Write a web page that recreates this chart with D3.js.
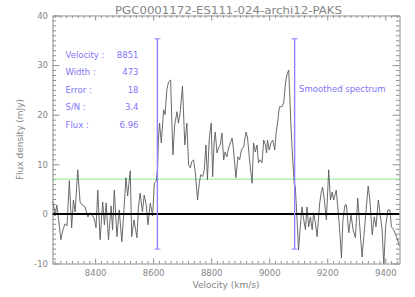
<!DOCTYPE html>
<html>
<head>
<meta charset="utf-8">
<script src="https://cdn.jsdelivr.net/npm/d3@7"></script>
<style>
  body { margin: 0; background: #fff; }
  svg text { font-family: "DejaVu Sans", sans-serif; }
</style>
</head>
<body>
<svg id="chart" width="415" height="297"></svg>
<script>
/*global d3*/

// spectrum
var velocity = [8253, 8258, 8262, 8268, 8275, 8282, 8289, 8296, 8303, 8311,
    8319, 8325, 8331, 8340, 8348, 8355, 8365, 8375, 8382, 8389,
    8397, 8403, 8409, 8417, 8426, 8432, 8438, 8446, 8455, 8460,
    8466, 8475, 8483, 8492, 8500, 8506, 8512, 8521, 8526, 8534,
    8544, 8549, 8555, 8563, 8569, 8576, 8582, 8590, 8598, 8604,
    8610, 8615, 8618, 8622, 8628, 8636, 8641, 8647, 8653, 8660,
    8668, 8674, 8682, 8687, 8693, 8701, 8709, 8716, 8722, 8728,
    8733, 8739, 8745, 8753, 8759, 8764, 8771, 8776, 8782, 8787,
    8793, 8800, 8805, 8810, 8814, 8820, 8825, 8831, 8837, 8843,
    8848, 8854, 8860, 8866, 8872, 8877, 8885, 8892, 8898, 8904,
    8912, 8920, 8925, 8932, 8941, 8946, 8952, 8958, 8963, 8969,
    8975, 8981, 8987, 8991, 8994, 9000, 9006, 9012, 9019, 9023,
    9030, 9035, 9044, 9050, 9056, 9061, 9067, 9070, 9075, 9081,
    9086, 9090, 9096, 9101, 9107, 9113, 9119, 9125, 9130, 9136,
    9142, 9148, 9153, 9159, 9165, 9170, 9174, 9179, 9184, 9190,
    9197, 9205, 9211, 9217, 9222, 9231, 9238, 9242, 9249, 9254,
    9261, 9266, 9274, 9282, 9289, 9297, 9305, 9311, 9320, 9326,
    9334, 9341, 9347, 9355, 9362, 9368, 9376, 9382, 9389, 9395,
    9401, 9409, 9416, 9421, 9429, 9439, 9447, 9452];

var flux = [2.6, 1.2, -0.4, 1.8, -1.6, -5.2, -3.2, -2.0, -2.4, 6.7,
    -2.8, 2.8, 0.4, 8.9, 2.4, 1.8, 1.4, -0.6, 0.2, -0.2,
    -1.0, -2.8, 4.8, -5.2, 2.4, -2.2, 2.2, -5.2, 1.6, -3.2,
    4.8, -4.6, 0.8, -5.6, 1.4, 7.3, 3.6, 8.7, -4.6, -1.2,
    -4.8, 1.2, 4.2, 0.4, 3.8, 1.8, -2.2, 2.2, -0.4, 6.2,
    6.5, 8.9, 14.9, 18.3, 14.3, 21.0, 20.0, 25.0, 26.6, 27.0,
    11.9, 17.9, 20.6, 18.3, 20.4, 25.8, 13.9, 18.3, 9.9, 9.3,
    10.5, 10.9, 8.5, 2.8, 6.2, 7.9, 7.5, 8.9, 13.9, 6.9,
    14.9, 18.3, 7.5, 14.3, 16.5, 12.3, 13.3, 13.9, 16.3, 10.9,
    12.5, 11.5, 13.3, 14.3, 15.3, 12.9, 7.3, 11.5, 10.9, 12.9,
    13.5, 16.5, 15.5, 10.9, 6.2, 14.3, 12.5, 13.9, 10.3, 10.9,
    10.3, 14.9, 13.9, 12.3, 14.9, 12.9, 14.3, 14.9, 12.9, 15.9,
    19.0, 21.6, 21.6, 22.4, 26.4, 28.0, 29.0, 25.0, 17.5, 10.9,
    6.2, 5.4, -1.2, -7.3, -2.6, 1.4, -1.2, -3.2, 1.4, -2.6,
    -0.6, -3.2, 0.2, -1.8, -4.6, -0.8, 2.2, 4.2, 5.4, 2.8,
    -1.2, 8.9, 2.8, 4.4, 2.8, 4.8, 0.2, -2.6, -8.9, -1.2,
    1.8, 1.8, -3.8, -0.2, -3.2, -4.8, 3.2, -1.6, -8.7, -4.6,
    0.8, 5.6, 2.8, -4.2, -0.6, -2.6, 2.8, 0.2, -3.2, -10.3,
    -2.6, 0.8, 0.8, -2.6, -3.2, -4.6, -6.2, -6.7];

var title = "PGC0001172-ES111-024-archi12-PAKS";
var xDomain = [8253, 9449];
var yDomain = [-10, 40];
var xMajor = [8400, 8600, 8800, 9000, 9200, 9400];
var yMajor = [-10, 0, 10, 20, 30, 40];

// fit results
var infoLabels = ["Velocity :", "Width :", "Error :", "S/N :", "Flux :"];
var infoValues = ["8851", "473", "18", "3.4", "6.96"];
var lineVelocity = 8851;
var lineWidth = 473;
var markerRange = [-7.1, 35.3];
var threshold = 7.0;
var smoothLabel = "Smoothed spectrum";

var svg = d3.select("#chart");
var margin = {top: 15.5, right: 15.5, bottom: 33.5, left: 52.5};
var width = 415 - margin.left - margin.right;
var height = 297 - margin.top - margin.bottom;

var axisColor = "#8f8f8f";
var textColor = "#858585";
var blue = "#8c82ff";

var x = d3.scaleLinear().domain(xDomain).range([0, width]);
var y = d3.scaleLinear().domain(yDomain).range([height, 0]);

var root = svg.append("g")
    .attr("transform", "translate(" + margin.left + "," + margin.top + ")");

svg.append("defs").append("clipPath").attr("id", "plotclip")
    .append("rect").attr("width", width).attr("height", height);

// minor ticks every 20 km/s and 1 mJy
var xMinor = d3.range(8260, xDomain[1], 20).filter(function (v) { return v % 200 !== 0; });
var yMinor = d3.range(-9, 40, 1).filter(function (v) { return v % 10 !== 0; });

function styleAxis(g) {
    g.selectAll("path").attr("stroke", axisColor);
    g.selectAll("line").attr("stroke", axisColor);
    g.selectAll("text").attr("fill", textColor)
        .style("font-family", "DejaVu Sans").style("font-size", "8.5px");
}

// bottom
root.append("g").attr("transform", "translate(0," + height + ")")
    .call(d3.axisBottom(x).tickValues(xMajor).tickFormat(d3.format("d"))
        .tickSizeInner(-5).tickSizeOuter(0).tickPadding(6))
    .call(styleAxis);
root.append("g").attr("transform", "translate(0," + height + ")")
    .call(d3.axisBottom(x).tickValues(xMinor).tickFormat("").tickSizeInner(-2.5).tickSizeOuter(0))
    .call(styleAxis).select(".domain").remove();
// top
root.append("g")
    .call(d3.axisTop(x).tickValues(xMajor).tickFormat("").tickSizeInner(-5).tickSizeOuter(0))
    .call(styleAxis);
root.append("g")
    .call(d3.axisTop(x).tickValues(xMinor).tickFormat("").tickSizeInner(-2.5).tickSizeOuter(0))
    .call(styleAxis).select(".domain").remove();
// left
root.append("g")
    .call(d3.axisLeft(y).tickValues(yMajor).tickFormat(d3.format("d"))
        .tickSizeInner(-7).tickSizeOuter(0).tickPadding(4.5))
    .call(styleAxis);
root.append("g")
    .call(d3.axisLeft(y).tickValues(yMinor).tickFormat("").tickSizeInner(-3.5).tickSizeOuter(0))
    .call(styleAxis).select(".domain").remove();
// right
root.append("g").attr("transform", "translate(" + width + ",0)")
    .call(d3.axisRight(y).tickValues(yMajor).tickFormat("").tickSizeInner(-7).tickSizeOuter(0))
    .call(styleAxis);
root.append("g").attr("transform", "translate(" + width + ",0)")
    .call(d3.axisRight(y).tickValues(yMinor).tickFormat("").tickSizeInner(-3.5).tickSizeOuter(0))
    .call(styleAxis).select(".domain").remove();

// plain hyphen for negative labels, like the original
root.selectAll("text").text(function () { return d3.select(this).text().replace("−", "-"); });

var plot = root.append("g").attr("clip-path", "url(#plotclip)");

// detection threshold
plot.append("line")
    .attr("x1", 0).attr("x2", width)
    .attr("y1", y(threshold)).attr("y2", y(threshold))
    .attr("stroke", "#8fe88f").attr("stroke-width", 1);

// spectrum
var spectrum = velocity.map(function (v, i) { return [v, flux[i]]; });
var valueLine = d3.line()
    .x(function (d) { return x(d[0]); })
    .y(function (d) { return y(d[1]); });
plot.append("path")
    .datum(spectrum)
    .attr("d", valueLine)
    .attr("fill", "none")
    .attr("stroke", "#5a5a5a")
    .attr("stroke-width", 0.9);

// zero level
plot.append("line")
    .attr("x1", 0).attr("x2", width)
    .attr("y1", y(0)).attr("y2", y(0))
    .attr("stroke", "#000").attr("stroke-width", 2);

// line edges
var edges = [lineVelocity - lineWidth / 2, lineVelocity + lineWidth / 2];
var markers = root.selectAll("g.edge").data(edges).enter()
    .append("g").attr("class", "edge");
markers.append("line")
    .attr("x1", function (d) { return x(d); }).attr("x2", function (d) { return x(d); })
    .attr("y1", y(markerRange[0])).attr("y2", y(markerRange[1]))
    .attr("stroke", blue).attr("stroke-width", 1.4);
markerRange.forEach(function (m) {
    markers.append("line")
        .attr("x1", function (d) { return x(d) - 3; }).attr("x2", function (d) { return x(d) + 3; })
        .attr("y1", y(m)).attr("y2", y(m))
        .attr("stroke", blue).attr("stroke-width", 1);
});

// info text
var info = root.append("g")
    .style("font-size", "8.5px").attr("fill", "#8274f7");
infoLabels.forEach(function (t, i) {
    info.append("text").attr("x", 13).attr("y", 42.5 + i * 17.4).text(t);
    info.append("text").attr("x", 86).attr("y", 42.5 + i * 17.4)
        .attr("text-anchor", "end").text(infoValues[i]);
});
info.append("text").attr("x", x(edges[1]) + 4.5).attr("y", 76.5).text(smoothLabel);

// titles
svg.append("text")
    .attr("x", 228.5).attr("y", 13.5)
    .attr("text-anchor", "middle")
    .attr("textLength", 227).attr("lengthAdjust", "spacingAndGlyphs")
    .attr("fill", textColor).style("font-size", "10px")
    .text(title);

svg.append("text")
    .attr("x", margin.left + width / 2).attr("y", 287.5)
    .attr("text-anchor", "middle")
    .attr("fill", textColor).style("font-size", "9px")
    .text("Velocity (km/s)");

svg.append("text")
    .attr("transform", "translate(23," + (margin.top + height / 2) + ") rotate(-90)")
    .attr("text-anchor", "middle")
    .attr("fill", textColor).style("font-size", "9px")
    .text("Flux density (mJy)");
</script>
</body>
</html>
